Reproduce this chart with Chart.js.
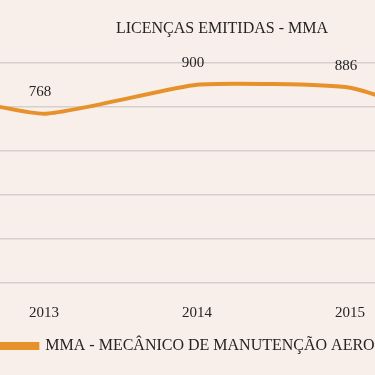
<!DOCTYPE html>
<html><head><meta charset="utf-8">
<script src="https://cdn.jsdelivr.net/npm/chart.js@4.4.1/dist/chart.umd.min.js"></script>
<style>
html,body{margin:0;padding:0;width:375px;height:375px;overflow:hidden;background:#f8efeb;}
#wrap{position:absolute;left:-178px;top:0;width:800px;height:375px;}
canvas{display:block;}
</style></head><body>
<div id="wrap"><canvas id="c" width="800" height="375"></canvas></div>
<script>
const years = [2012, 2013, 2014, 2015, 2016];
const licencas = [905, 768, 900, 886, 660];
const yTicks = [0, 200, 400, 600, 800, 1000];
const xTicks = [2013, 2014, 2015];
const titleText = 'LICENÇAS EMITIDAS - MMA';
const seriesName = 'MMA - MECÂNICO DE MANUTENÇÃO AERONÁUTICA';

const FONT = '"Liberation Serif", "DejaVu Serif", serif';
const TEXT = '#262322';
const ORANGE = '#e7912b';
const GRID = '#d6cfcc';

const valueLabels = {
  id: 'valueLabels',
  afterDatasetsDraw(chart) {
    const ctx = chart.ctx;
    const meta = chart.getDatasetMeta(0);
    ctx.save();
    ctx.font = '15px ' + FONT;
    ctx.fillStyle = TEXT;
    ctx.textAlign = 'center';
    ctx.textBaseline = 'middle';
    meta.data.forEach((pt, i) => {
      ctx.fillText(String(licencas[i]), pt.x - 4, pt.y - 22);
    });
    ctx.restore();
  }
};

new Chart(document.getElementById('c'), {
  type: 'line',
  data: {
    datasets: [{
      label: seriesName,
      data: years.map((y, i) => ({x: y, y: licencas[i]})),
      borderColor: ORANGE,
      backgroundColor: ORANGE,
      borderWidth: 4,
      pointRadius: 0,
      tension: 0.15,
      fill: false
    }]
  },
  options: {
    responsive: false,
    animation: false,
    layout: {padding: {left: 0, right: 0, top: 0, bottom: 11}},
    plugins: {
      title: {
        display: true,
        text: titleText,
        color: TEXT,
        font: {family: FONT, size: 16, weight: 'normal'},
        padding: {top: 19, bottom: 24.5}
      },
      legend: {
        display: true,
        position: 'bottom',
        labels: {
          color: TEXT,
          font: {family: FONT, size: 16},
          boxWidth: 40,
          boxHeight: 4,
          padding: 15.5
        }
      },
      tooltip: {enabled: false}
    },
    scales: {
      x: {
        type: 'linear',
        min: 2011.549,
        max: 2016.778,
        afterBuildTicks: (s) => { s.ticks = xTicks.map(v => ({value: v})); },
        afterFit: (s) => { s.height = 39.5; },
        grid: {display: false, drawTicks: false},
        border: {display: false},
        ticks: {
          color: TEXT,
          font: {family: FONT, size: 15},
          padding: 21.5,
          maxRotation: 0,
          autoSkip: false,
          callback: (v) => String(v)
        }
      },
      y: {
        min: 0,
        max: 1000,
        afterBuildTicks: (s) => { s.ticks = yTicks.map(v => ({value: v})); },
        grid: {color: GRID, lineWidth: 1.6, drawTicks: false},
        border: {display: false},
        ticks: {display: false}
      }
    }
  },
  plugins: [valueLabels]
});
</script>
</body></html>
